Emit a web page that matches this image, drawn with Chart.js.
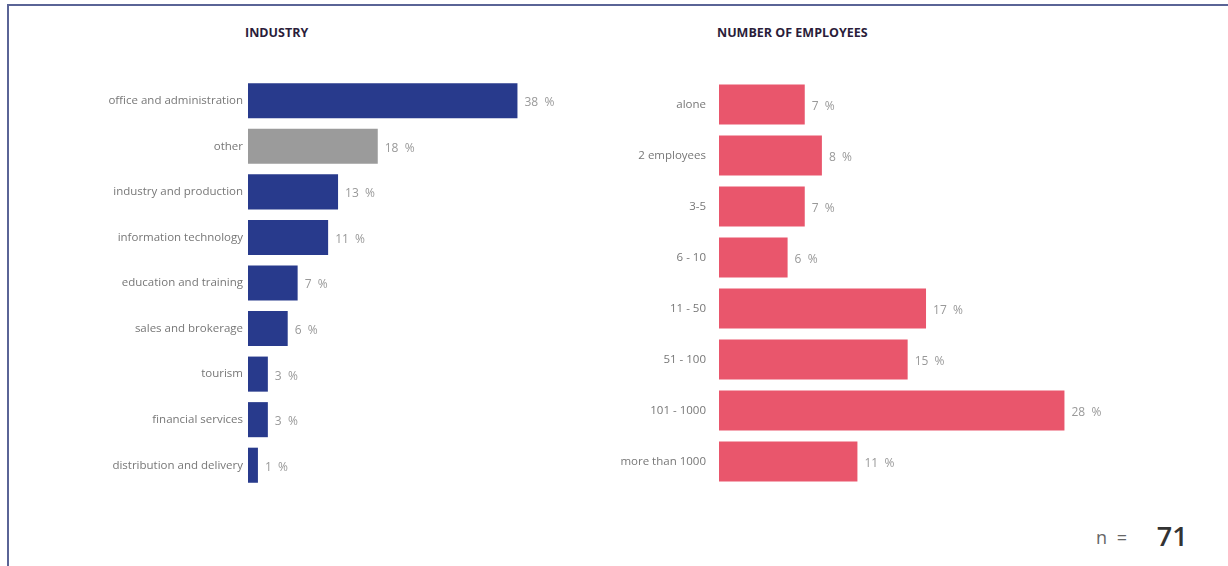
<!DOCTYPE html>
<html>
<head>
<meta charset="utf-8">
<script src="https://cdn.jsdelivr.net/npm/chart.js@4"></script>
<style>
  body { margin: 0; background: #fff; font-family: "Open Sans", sans-serif; }
  #wrap { position: relative; width: 1228px; height: 566px; overflow: hidden; }
  #frame { position: absolute; left: 7px; top: 4px; width: 1240px; height: 600px;
           border-left: 2px solid #5a6496; border-top: 2px solid #5a6496; }
  .title { position: absolute; top: 24px; font-size: 12.5px; font-weight: bold; color: #2b1d3a; }
  canvas { position: absolute; }
  #n { position: absolute; left: 1096px; top: 518px; color: #666; font-size: 18px; line-height: 36px; word-spacing: 5px; }
  #n b { color: #333; font-size: 27px; margin-left: 20px; font-weight: 600; vertical-align: -2px; }
</style>
</head>
<body>
<div id="wrap">
  <div id="frame"></div>
  <div class="title" style="left:245px">INDUSTRY</div>
  <div class="title" style="left:717px">NUMBER OF EMPLOYEES</div>
  <canvas id="chartIndustry" width="540" height="410" style="left:20px;top:78px;width:540px;height:410px"></canvas>
  <canvas id="chartEmployees" width="560" height="408" style="left:600px;top:79px;width:560px;height:408px"></canvas>
  <div id="n">n = <b>71</b></div>
</div>
<script>
// bar lengths (labels show the rounded value)
const industryLabels = ["office and administration", "other", "industry and production",
  "information technology", "education and training", "sales and brokerage",
  "tourism", "financial services", "distribution and delivery"];
const industryValues = [38.0, 18.3, 12.7, 11.3, 7.0, 5.6, 2.8, 2.8, 1.4];

const employeeLabels = ["alone", "2 employees", "3-5", "6 - 10", "11 - 50",
  "51 - 100", "101 - 1000", "more than 1000"];
const employeeValues = [7.0, 8.4, 7.0, 5.6, 16.9, 15.4, 28.2, 11.3];

const NAVY = "#283a8c";
const GREY = "#9b9b9b";
const PINK = "#e9566c";

// value labels next to each bar
const valueLabels = {
  id: "valueLabels",
  afterDatasetsDraw(chart) {
    const ctx = chart.ctx;
    const meta = chart.getDatasetMeta(0);
    const data = chart.data.datasets[0].data;
    ctx.save();
    ctx.font = "12px 'Open Sans', sans-serif";
    ctx.fillStyle = "#999";
    ctx.textBaseline = "middle";
    meta.data.forEach((bar, i) => {
      ctx.fillText(Math.round(data[i]) + "  %", bar.x + 7, bar.y + 2);
    });
    ctx.restore();
  }
};

function makeChart(id, labels, values, colors, max, axisWidth, pct, pad) {
  return new Chart(document.getElementById(id), {
    type: "bar",
    data: {
      labels: labels,
      datasets: [{ data: values, backgroundColor: colors, barPercentage: pct, categoryPercentage: 1 }]
    },
    options: {
      indexAxis: "y",
      responsive: false,
      animation: false,
      layout: { padding: 0 },
      plugins: { legend: { display: false }, tooltip: { enabled: false } },
      scales: {
        x: { display: false, min: 0, max: max },
        y: {
          grid: { display: false, drawTicks: false, tickLength: 0 },
          border: { display: false },
          ticks: { color: "#777", font: { family: "'Open Sans', sans-serif", size: 11.5 }, padding: pad },
          afterFit(axis) {
            axis.width = axisWidth;
            axis.paddingTop = 0;
            axis.paddingBottom = 0;
          }
        }
      }
    },
    plugins: [valueLabels]
  });
}

const industryColors = industryLabels.map(l => l === "other" ? GREY : NAVY);
makeChart("chartIndustry", industryLabels, industryValues, industryColors, 44, 228, 0.77, 5);
makeChart("chartEmployees", employeeLabels, employeeValues, PINK, 36, 119, 0.78, 13);
</script>
</body>
</html>
